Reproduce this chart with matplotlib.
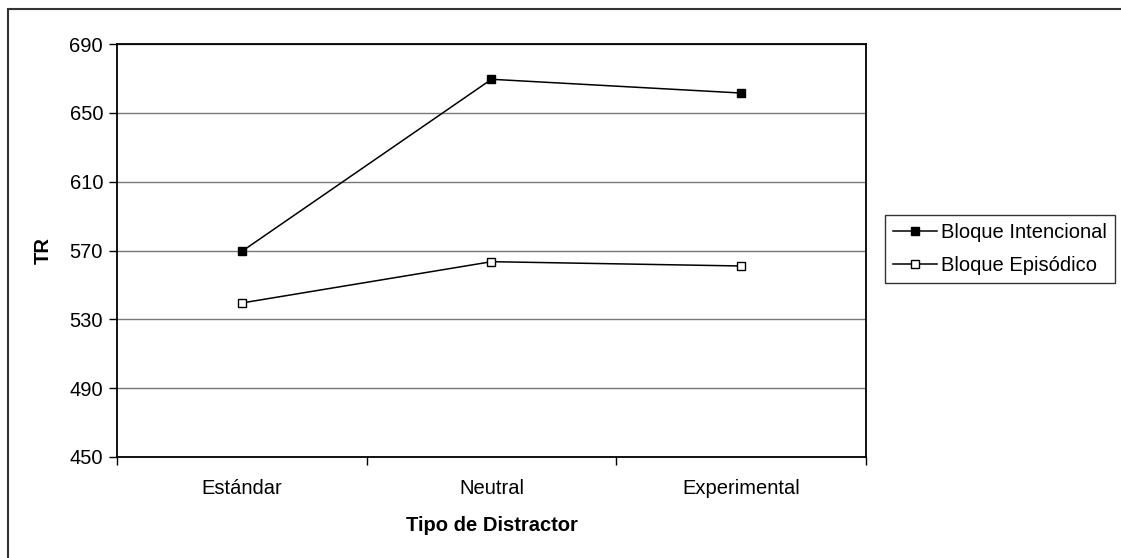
import matplotlib
matplotlib.use("Agg")
import matplotlib.pyplot as plt
from matplotlib.patches import Rectangle

plt.rcParams['font.family'] = ['Liberation Sans', 'DejaVu Sans']

categorias = ['Estándar', 'Neutral', 'Experimental']
intencional = [569.5, 669.5, 661.5]
episodico = [539.5, 563.5, 561.0]
yticks = [450, 490, 530, 570, 610, 650, 690]

fig = plt.figure(figsize=(11.21, 5.58), dpi=100)
W, H = 1121, 558

# marco exterior del grafico
fig.patches.append(Rectangle((8 / W, -0.1), 1.2, (H - 9) / H + 0.1,
                             transform=fig.transFigure, fill=False,
                             edgecolor='#333333', linewidth=1.5))

ax = fig.add_axes([117 / W, (H - 457) / H, (866 - 117) / W, (457 - 44) / H])

x = range(len(categorias))
ax.plot(x, intencional, color='black', linewidth=1.1, marker='s',
        markersize=5.5, markerfacecolor='black', markeredgecolor='black',
        label='Bloque Intencional')
ax.plot(x, episodico, color='black', linewidth=1.1, marker='s',
        markersize=5.5, markerfacecolor='white', markeredgecolor='black',
        label='Bloque Episódico')

ax.set_xlim(-0.5, 2.5)
ax.set_ylim(450, 690)
ax.set_yticks(yticks)
ax.set_yticklabels([str(v) for v in yticks], fontsize=14.5)
ax.yaxis.grid(True, color='#777777', linewidth=1)
ax.set_axisbelow(True)

ax.set_xticks([-0.5, 0.5, 1.5, 2.5])
ax.set_xticklabels([])
ax.set_xticks(list(x), minor=True)
ax.set_xticklabels(categorias, minor=True, fontsize=14.5)
ax.tick_params(axis='x', which='minor', length=0, pad=16)
ax.tick_params(axis='x', which='major', length=6, width=1, direction='out')
ax.tick_params(axis='y', length=6, width=1, direction='out', pad=4)

for s in ax.spines.values():
    s.set_linewidth(1.3)
    s.set_color('black')

ax.set_xlabel('Tipo de Distractor', fontsize=14.5, fontweight='bold', labelpad=13)
ax.set_ylabel('TR', fontsize=14.5, fontweight='bold', labelpad=12)

leg = ax.legend(loc='upper left', bbox_to_anchor=(885 / W, (H - 215) / H),
                bbox_transform=fig.transFigure, fontsize=14.5, frameon=True,
                fancybox=False, edgecolor='black', handlelength=2.2,
                handletextpad=0.2, borderpad=0.4, labelspacing=0.7,
                borderaxespad=0)
leg.get_frame().set_linewidth(1)

fig.savefig('out.png', dpi=100, facecolor='white')
